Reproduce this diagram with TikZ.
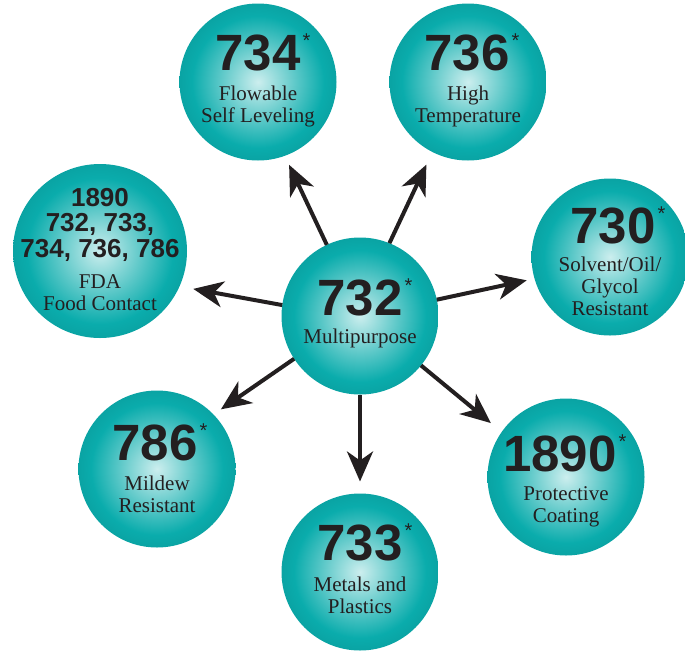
\documentclass[tikz,border=0pt]{standalone}
\usepackage{fontspec}
\setmainfont{Liberation Serif}
\newfontfamily\numfont{Liberation Sans}
\usetikzlibrary{arrows.meta}

\definecolor{tealedge}{RGB}{10,172,172}
\definecolor{tealmid}{RGB}{92,200,200}
\definecolor{tealcore}{RGB}{204,238,238}
\definecolor{inktext}{RGB}{35,31,32}
\pgfdeclareradialshading{tealball}{\pgfpoint{0bp}{0bp}}{color(0bp)=(tealcore); color(12bp)=(tealmid); color(21bp)=(tealedge); color(25bp)=(tealedge!95!black); color(50bp)=(tealedge!95!black)}

\tikzset{
	ball/.style={circle,shading=tealball,minimum size=157pt,inner sep=0pt,outer sep=0pt},
	bignum/.style={anchor=base,inner sep=0pt,text=inktext,font=\numfont\bfseries\fontsize{51}{51}\selectfont},
	caption/.style={anchor=base,inner sep=0pt,align=center,text=inktext,font=\fontsize{21}{22}\selectfont},
	flow/.style={-{Stealth[length=30pt,width=26pt,inset=9pt]},line width=4pt,draw=inktext,fill=inktext},
}
\newcommand{\starmark}{\rlap{\kern2pt\raisebox{23pt}{\numfont\mdseries\fontsize{20}{20}\selectfont *}}}

\begin{document}
\begin{tikzpicture}[x=1pt,y=-1pt]
	\useasboundingbox (0,0) rectangle (685,651);

	\node[ball] (c732) at (360,316) {};
	\node[bignum] at (360,315) {732\starmark};
	\node[caption] at (360,343) {Multipurpose};

	% last caption line sits on the base anchor
	\foreach \nm/\x/\y/\nx/\ny/\num/\ty/\txt in {
		n734/258/82/258/70/734/122/{Flowable\\Self Leveling},
		n736/468/82/467/70/736/122/{High\\Temperature},
		n730/610/257/613/243/730/315/{Solvent/Oil/\\Glycol\\Resistant},
		n786/157/469/155/460/786/512/{Mildew\\Resistant},
		n733/360/572/360/560/733/613/{Metals and\\Plastics},
		n1890/566/477/560/471/1890/522/{Protective\\Coating}} {
		\node[ball] (\nm) at (\x,\y) {};
		\node[bignum] at (\nx,\ny) {\num\starmark};
		\node[caption] at (\x,\ty) {\txt};
	};

	\node[ball,minimum size=174pt] (nFDA) at (100,251) {};
	\node[anchor=base,inner sep=0pt,align=center,text=inktext,font=\numfont\bfseries\fontsize{26}{25.5}\selectfont] at (100,257) {1890\\732, 733,\\734, 736, 786};
	\node[caption] at (100,310) {FDA\\Food Contact};

	\draw[flow,shorten >=10pt] (c732.115) -- (n734.290);
	\draw[flow,shorten >=14pt] (c732.68) -- (n736.243);
	\draw[flow,shorten >=8pt] (c732.12) -- (n730.196);
	\draw[flow,shorten >=14pt] (c732.172) -- (nFDA.336);
	\draw[flow,shorten >=9pt] (c732.213) -- (n786.44);
	\draw[flow,shorten >=12pt] (c732.270) -- (n733.90);
	\draw[flow,shorten >=14pt] (c732.321) -- (n1890.145);
\end{tikzpicture}
\end{document}
